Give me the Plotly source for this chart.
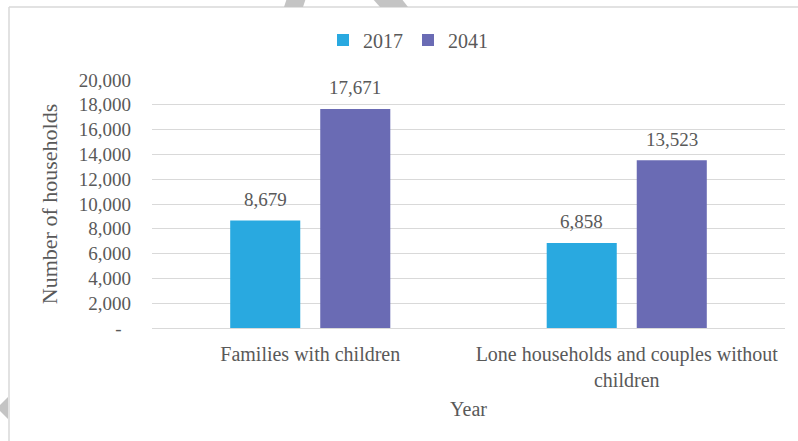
import plotly.graph_objects as go

# Household counts by type, 2017 vs projected 2041
categories = ["Families with children", "Lone households and couples without<br>children"]
years = ["2017", "2041"]
values_2017 = [8679, 6858]
values_2041 = [17671, 13523]
y_ticks = [0, 2000, 4000, 6000, 8000, 10000, 12000, 14000, 16000, 18000, 20000]
y_tick_text = ["-\u00a0\u00a0"] + [f"{v:,}" for v in y_ticks[1:]]

colors = {"2017": "#29A9E0", "2041": "#6A6BB4"}
series = {"2017": values_2017, "2041": values_2041}

W, H = 798, 441
M_L, M_R, M_T, M_B = 152, 13, 80, 113
FONT = "Liberation Serif, Times New Roman, serif"
GREY = "#595959"
BARGAP, GROUPGAP = 0.431, 0.222

fig = go.Figure()
for yr in years:
    fig.add_trace(go.Bar(
        name=yr,
        x=categories,
        y=series[yr],
        marker=dict(color=colors[yr], line=dict(width=0)),
        hovertemplate="%{y:,}<extra>" + yr + "</extra>",
    ))

# helpers to place decorative shapes in page pixels
pw, ph = W - M_L - M_R, H - M_T - M_B
def px(x):
    return (x - M_L) / pw
def py(y):
    return (H - M_B - y) / ph

def poly(points):
    return "M " + " L ".join(f"{px(x):.5f},{py(y):.5f}" for x, y in points) + " Z"

# value labels sit above each bar, centred on its slot within the group
slot = pw / len(categories) * (1 - BARGAP) / len(years)
annotations = []
for i, yr in enumerate(years):
    shift = (i - (len(years) - 1) / 2) * slot
    for cat, v in zip(categories, series[yr]):
        annotations.append(dict(
            x=cat, y=v, xref="x", yref="y", text=f"{v:,}", showarrow=False,
            xshift=shift, yshift=21, yanchor="middle",
            font=dict(family=FONT, size=19, color=GREY),
        ))

shapes = [
    # outer frame of the chart
    dict(type="line", xref="paper", yref="paper", x0=px(9), y0=py(7), x1=px(W + 5), y1=py(7),
         line=dict(color="#d9d9d9", width=1.5)),
    dict(type="line", xref="paper", yref="paper", x0=px(9), y0=py(7), x1=px(9), y1=py(H + 5),
         line=dict(color="#d9d9d9", width=1.5)),
    # faint background marks
    dict(type="path", xref="paper", yref="paper", path=poly([(287, -2), (306, -2), (303, 7), (284, 7)]),
         fillcolor="#c4c4c4", line=dict(width=0)),
    dict(type="path", xref="paper", yref="paper", path=poly([(372, -2), (401, -2), (408, 7), (380, 7)]),
         fillcolor="#c4c4c4", line=dict(width=0)),
    dict(type="path", xref="paper", yref="paper", path=poly([(8, 397), (8, 419), (0, 411), (0, 405)]),
         fillcolor="#c4c4c4", line=dict(width=0)),
]

fig.update_layout(
    width=W, height=H,
    margin=dict(l=M_L, r=M_R, t=M_T, b=M_B, pad=0),
    paper_bgcolor="white", plot_bgcolor="white",
    font=dict(family=FONT, size=19, color=GREY),
    barmode="group",
    bargap=BARGAP,
    bargroupgap=GROUPGAP,
    showlegend=True,
    legend=dict(orientation="h", x=px(323), xanchor="left", y=py(40), yanchor="middle",
                font=dict(family=FONT, size=20, color=GREY), itemwidth=30,
                traceorder="normal"),
    shapes=shapes,
    annotations=annotations,
    xaxis=dict(
        showgrid=False, showline=True, linecolor="#d9d9d9", linewidth=1,
        ticks="", ticklabelstandoff=8,
        tickfont=dict(family=FONT, size=20, color=GREY),
        title=dict(text="Year", font=dict(family=FONT, size=20, color=GREY), standoff=11),
    ),
    yaxis=dict(
        range=[0, 20000], tickvals=y_ticks, ticktext=y_tick_text,
        showgrid=True, gridcolor="#d9d9d9", gridwidth=1, zeroline=False, showline=False,
        ticks="", ticklabelstandoff=20,
        tickfont=dict(family=FONT, size=19, color=GREY),
        title=dict(text="Number of households", font=dict(family=FONT, size=22, color=GREY), standoff=15),
    ),
)

fig.write_html("out.html")
